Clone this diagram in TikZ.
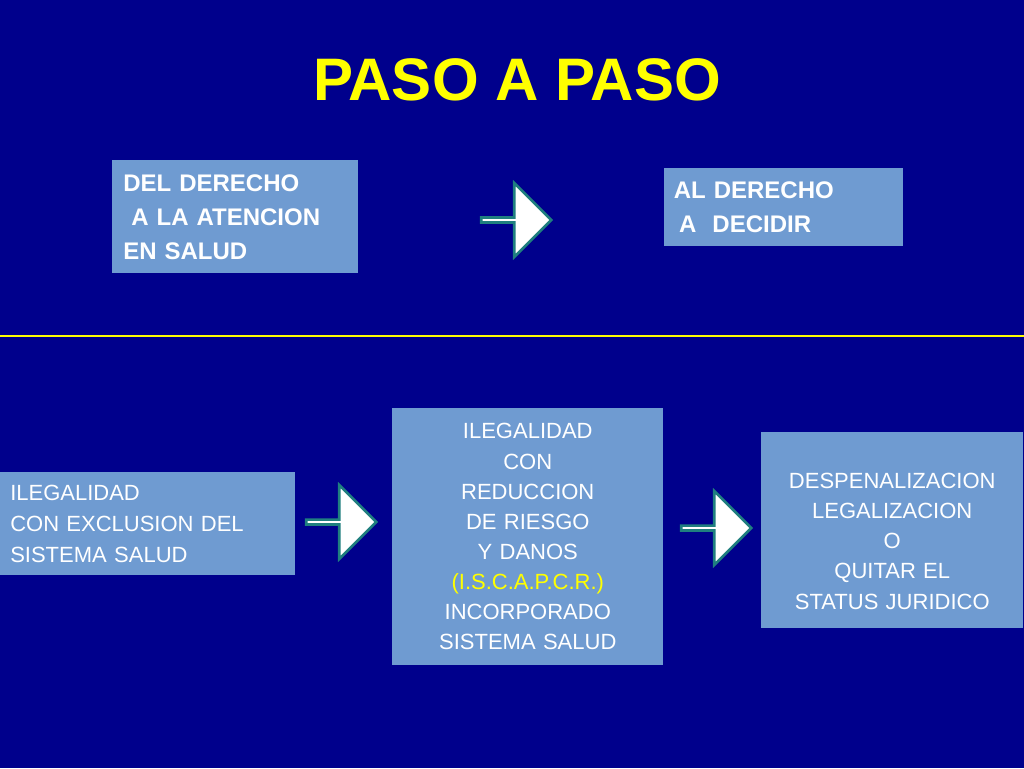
\documentclass[tikz,border=0pt]{standalone}
\usepackage{fontspec}
\setmainfont{Liberation Sans}
\usetikzlibrary{shapes.arrows}
\definecolor{bgblue}{HTML}{00008C}
\definecolor{boxblue}{HTML}{6F9BD1}
\definecolor{teal}{HTML}{1F7F7F}
\definecolor{ttlyellow}{HTML}{FFFF00}
\tikzset{
  box/.style={fill=boxblue,text=white,anchor=north west,inner ysep=0pt,inner xsep=11*0.75pt},
  steparrow/.style={single arrow,draw=teal,fill=white,line width=2pt,
    minimum width=74*0.75pt,minimum height=70*0.75pt,single arrow head extend=19*0.75pt,
    single arrow tip angle=90,inner sep=0pt}
}
\begin{document}
\begin{tikzpicture}[x=0.75pt,y=-0.75pt]
  \fill[bgblue] (0,0) rectangle (1024,768);
  \useasboundingbox (0,0) rectangle (1024,768);
  \node[text=ttlyellow,font=\fontsize{45}{50}\selectfont\bfseries] (title) at (517,80) {PASO A PASO};
  % upper row
  \node[box,minimum width=246*0.75pt,minimum height=113*0.75pt,align=left,
    font=\fontsize{18}{25.5}\selectfont\bfseries,text width=224*0.75pt] (atencion) at (112,160)
    {DEL DERECHO\\\hspace*{6pt}A LA ATENCION\\EN SALUD};
  \node[steparrow] (arrowa) at (515,220) {};
  \node[box,minimum width=239*0.75pt,minimum height=78*0.75pt,align=left,
    font=\fontsize{18}{25.5}\selectfont\bfseries,text width=220*0.75pt,inner xsep=4*0.75pt] (decidir) at (664,168)
    {AL DERECHO\\\hspace*{4pt}A\ \ DECIDIR};
  \draw[ttlyellow,line width=2.2pt] (0,336) -- (1024,336);
  % lower row
  \node[box,minimum width=291*0.75pt,minimum height=103*0.75pt,align=left,
    font=\fontsize{16.5}{23.2}\selectfont,text width=275*0.75pt,inner xsep=10*0.75pt] (exclusion) at (0,472)
    {ILEGALIDAD\\CON EXCLUSION DEL\\SISTEMA SALUD};
  \node[steparrow] (arrowb) at (340,522) {};
  \node[box,minimum width=271*0.75pt,minimum height=257*0.75pt,align=center,
    font=\fontsize{16.5}{22.6}\selectfont,text width=271*0.75pt,inner xsep=0pt] (reduccion) at (392,408)
    {ILEGALIDAD\\CON\\REDUCCION\\DE RIESGO\\Y DANOS\\\textcolor{ttlyellow}{(I.S.C.A.P.C.R.)}\\INCORPORADO\\SISTEMA SALUD};
  \node[steparrow] (arrowc) at (715,528) {};
  \node[box,minimum width=262*0.75pt,minimum height=196*0.75pt,align=center,
    font=\fontsize{16.5}{22.6}\selectfont,text width=262*0.75pt,inner xsep=0pt] (legal) at (761,432)
    {\rule{0pt}{28pt}DESPENALIZACION\\LEGALIZACION\\O\\QUITAR EL\\STATUS JURIDICO};
\end{tikzpicture}
\end{document}
